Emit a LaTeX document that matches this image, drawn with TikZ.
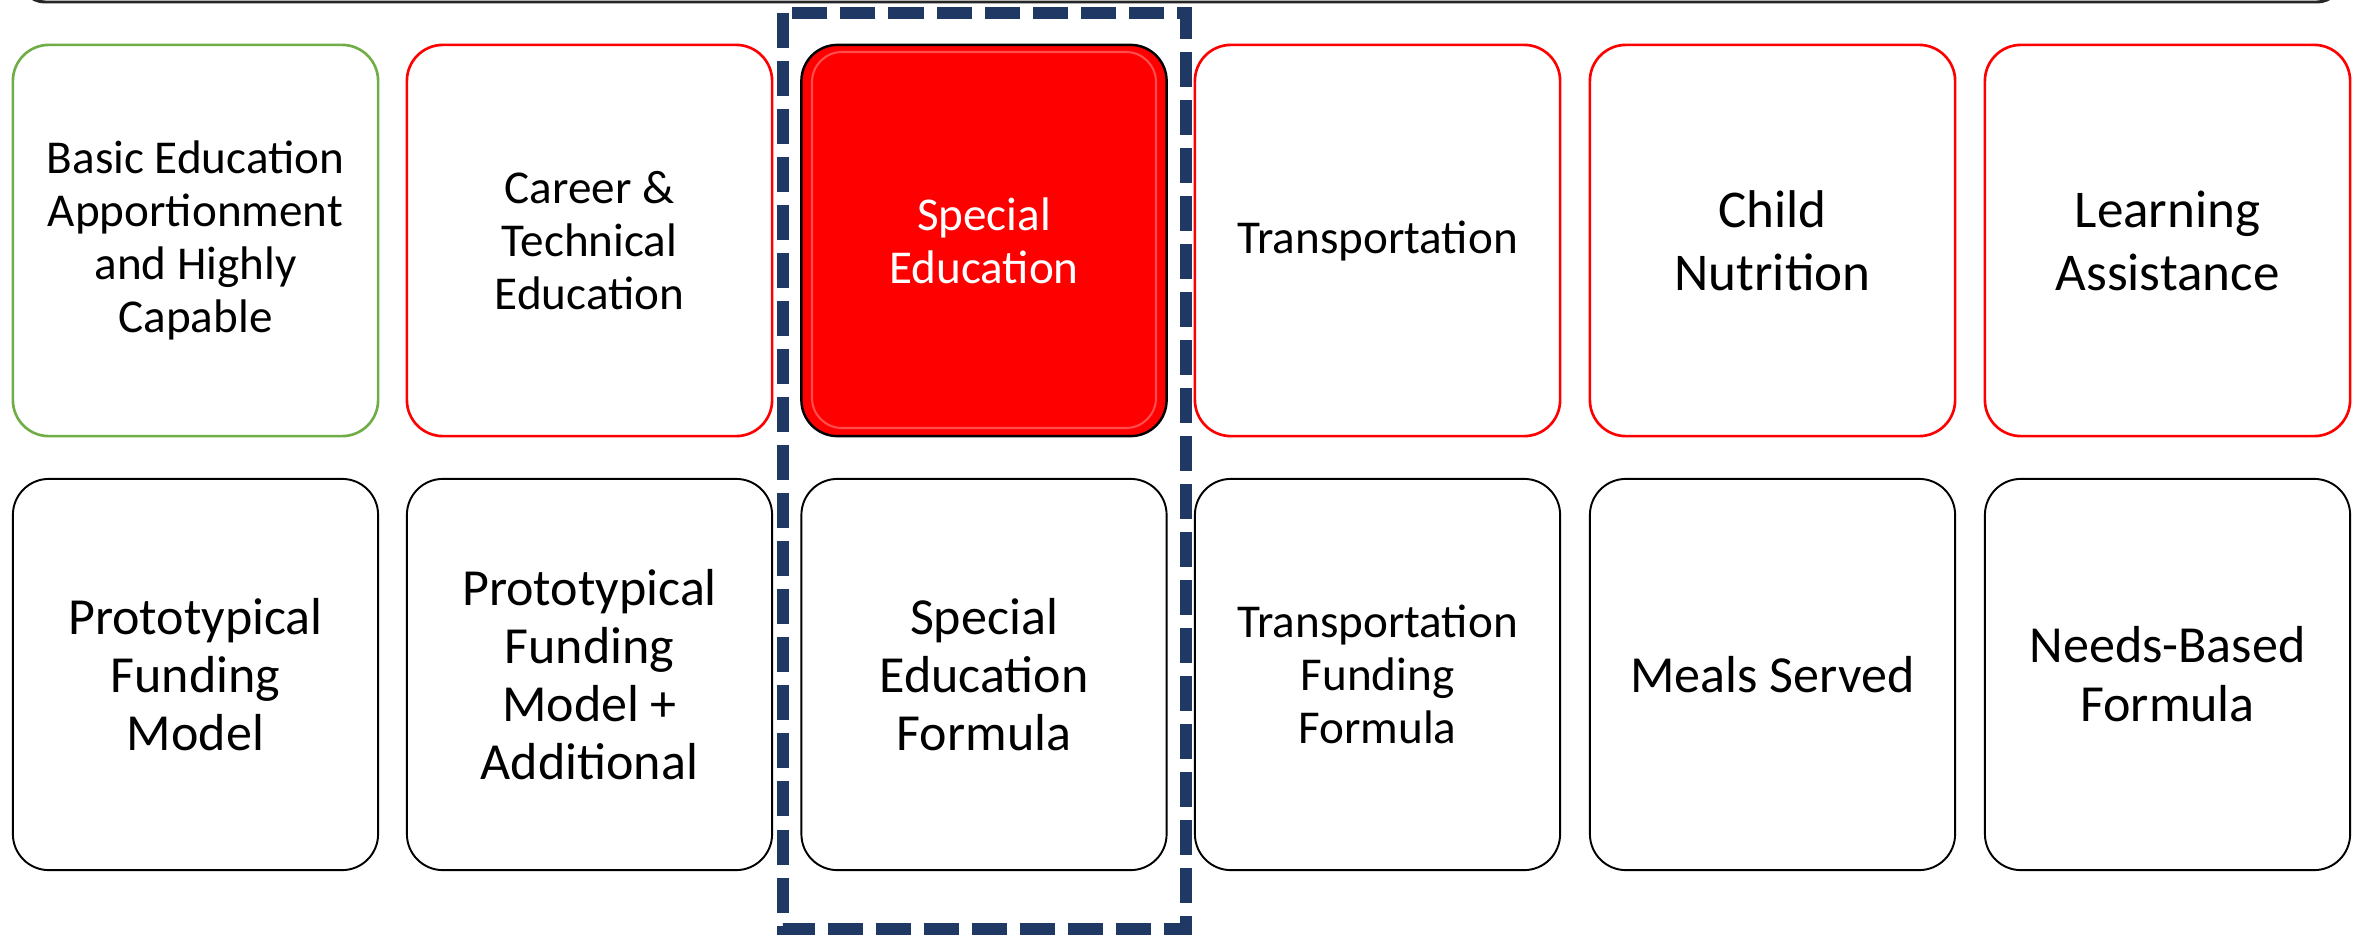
\documentclass[tikz,border=0pt]{standalone}
\usepackage{fontspec}
\setmainfont{Carlito}
\definecolor{offgreen}{RGB}{112,173,71}
\definecolor{navy}{RGB}{32,56,100}

\begin{document}
\begin{tikzpicture}[x=0.01cm, y=-0.01cm,
	card/.style={draw, rounded corners=0.36cm, minimum width=3.65cm, minimum height=3.91cm, inner sep=0pt, align=center, line width=0.55pt},
	topcard/.style={card, draw=red, line width=0.75pt},
	small/.style={font=\fontsize{13.4}{15.1}\selectfont},
	big/.style={font=\fontsize{14.8}{16.5}\selectfont},
	large/.style={font=\fontsize{15.1}{17.9}\selectfont}]
	\useasboundingbox (0,0) rectangle (2364,936);

	% bar along the top edge
	\draw [black!85, line width=0.85pt, rounded corners=0.25cm] (20,-80) rectangle (2342,2);

	% programs
	\node [topcard, draw=offgreen, small] (basic) at (195.5,240.5) {Basic Education\\Apportionment\\and Highly\\Capable};
	\node [topcard, small] (career) at (589.5,240.5) {Career \&\\Technical\\Education};
	\node [card, fill=red, draw=black, line width=0.7pt, text=white, small] (sped) at (984,240.5) {Special\\Education};
	\node [topcard, small] (transport) at (1377.5,240.5) {Transportation};
	\node [topcard, large] (nutrition) at (1772.5,240.5) {Child\\Nutrition};
	\node [topcard, large] (lap) at (2167.5,240.5) {Learning\\Assistance};

	% shine on the red card
	\draw [white, opacity=0.3, line width=0.6pt, rounded corners=0.3cm] (812,52) rectangle (1156,428);

	% funding methods
	\node [card, big] (proto) at (195.5,674.5) {Prototypical\\Funding\\Model};
	\node [card, big] (protoplus) at (589.5,674.5) {Prototypical\\Funding\\Model +\\Additional};
	\node [card, big] (spedformula) at (984,674.5) {Special\\Education\\Formula};
	\node [card, small] (transformula) at (1377.5,674.5) {Transportation\\Funding\\Formula};
	\node [card, font=\fontsize{14.8}{16.8}\selectfont] (meals) at (1772.5,674.5) {Meals Served};
	\node [card, font=\fontsize{14.8}{16.8}\selectfont] (needs) at (2167.5,674.5) {Needs-Based\\Formula};

	% dashed frame round the special education column
	\draw [navy, line width=0.12cm, dash pattern=on 0.35cm off 0.13cm] (783,13) rectangle (1186,929);
\end{tikzpicture}
\end{document}
